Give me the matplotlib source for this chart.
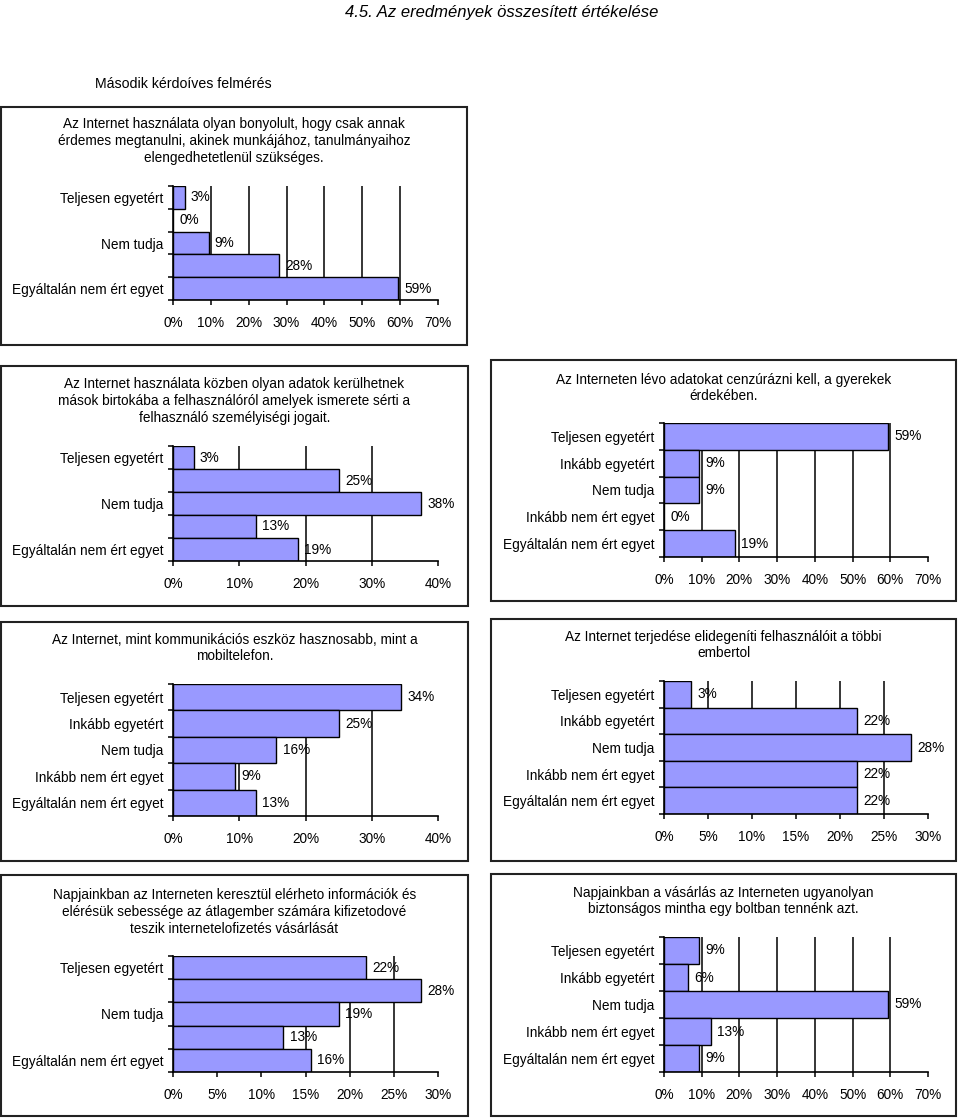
import numpy as np
import matplotlib
matplotlib.use('Agg')
import matplotlib.pyplot as plt
from matplotlib.patches import Rectangle

plt.rcParams['font.family'] = ['Liberation Sans', 'DejaVu Sans']

# --- dados ------------------------------------------------------------------
CATEGORIES = ['Teljesen egyetért', 'Inkább egyetért', 'Nem tudja',
              'Inkább nem ért egyet', 'Egyáltalán nem ért egyet']

TITLE_1 = ('Az Internet használata olyan bonyolult, hogy csak annak\n'
           'érdemes megtanulni, akinek munkájához, tanulmányaihoz\n'
           'elengedhetetlenül szükséges.')
TITLE_2 = ('Az Internet használata közben olyan adatok kerülhetnek\n'
           'mások birtokába a felhasználóról amelyek ismerete sérti a\n'
           'felhasználó személyiségi jogait.')
TITLE_3 = ('Az Interneten lévo adatokat cenzúrázni kell, a gyerekek\n'
           'érdekében.')
TITLE_4 = ('Az Internet, mint kommunikációs eszköz hasznosabb, mint a\n'
           'mobiltelefon.')
TITLE_5 = ('Az Internet terjedése elidegeníti felhasználóit a többi\n'
           'embertol')
TITLE_6 = ('Napjainkban az Interneten keresztül elérheto információk és\n'
           'elérésük sebessége az átlagember számára kifizetodové\n'
           'teszik internetelofizetés vásárlását')
TITLE_7 = ('Napjainkban a vásárlás az Interneten ugyanolyan\n'
           'biztonságos mintha egy boltban tennénk azt.')

VALUES_1 = [3.1, 0.0, 9.4, 28.1, 59.4]
VALUES_2 = [3.1, 25.0, 37.5, 12.5, 18.8]
VALUES_3 = [59.4, 9.4, 9.4, 0.0, 18.8]
VALUES_4 = [34.4, 25.0, 15.6, 9.4, 12.5]
VALUES_5 = [3.1, 21.9, 28.1, 21.9, 21.9]
VALUES_6 = [21.9, 28.1, 18.8, 12.5, 15.6]
VALUES_7 = [9.4, 6.3, 59.4, 12.5, 9.4]

# --- figura (coordenadas em pixels) -----------------------------------------
W, H = 960, 1118
FS = 9.8
BAR_COLOR = '#9999FF'

fig = plt.figure(figsize=(W / 100, H / 100), dpi=100)


def box(x0, x1, y0, y1):
    fig.add_artist(Rectangle((x0 / W, 1 - y1 / H), (x1 - x0) / W,
                             (y1 - y0) / H, transform=fig.transFigure,
                             fill=False, lw=1.5, ec='#222222'))


def panel(rect, values, xmax, step, title, title_y, frame, show_all=True):
    x0, x1, yt, yb = rect
    ax = fig.add_axes([x0 / W, 1 - yb / H, (x1 - x0) / W, (yb - yt) / H])
    y = np.arange(len(values))
    ax.barh(y, values, height=1.0, color=BAR_COLOR, edgecolor='black',
            lw=1.0, zorder=3)
    ticks = np.arange(0, xmax + step, step)
    ax.vlines(ticks[1:-1], -0.5, len(values) - 0.5, colors='black',
              lw=1.1, zorder=1)
    ax.set_xlim(0, xmax)
    ax.set_ylim(len(values) - 0.5, -0.5)
    ax.set_xticks(ticks)
    ax.set_xticklabels([f'{t}%' for t in ticks])
    ax.set_yticks(np.arange(-0.5, len(values), 1))
    ax.set_yticklabels([])
    ax.set_yticks(y, minor=True)
    labels = [c if (show_all or i % 2 == 0) else ''
              for i, c in enumerate(CATEGORIES)]
    ax.set_yticklabels(labels, minor=True)
    ax.tick_params(axis='y', which='major', direction='out', length=3.5,
                   width=1.1)
    ax.tick_params(axis='y', which='minor', length=0, pad=7, labelsize=FS)
    ax.tick_params(axis='x', direction='out', length=3.8, width=1.1,
                   pad=8, labelsize=FS)
    for s in ('top', 'right'):
        ax.spines[s].set_visible(False)
    for s in ('left', 'bottom'):
        ax.spines[s].set_linewidth(1.2)
        ax.spines[s].set_zorder(4)
    for i, v in enumerate(values):
        ax.annotate(f'{int(v + 0.5)}%', (v, i), xytext=(4.5, 0),
                    textcoords='offset points', ha='left', va='center',
                    fontsize=FS, zorder=5, annotation_clip=False)
    box(*frame)
    fig.text(((frame[0] + frame[1]) / 2) / W, 1 - title_y / H, title,
             ha='center', va='center', fontsize=FS, linespacing=1.25)
    return ax


fig.text(345 / W, 1 - 12 / H, '4.5. Az eredmények összesített értékelése',
         ha='left', va='center', fontsize=12, style='italic')
fig.text(95 / W, 1 - 84 / H, 'Második kérdoíves felmérés',
         ha='left', va='center', fontsize=10.2)

panel((173, 438, 186, 300), VALUES_1, 70, 10, TITLE_1, 141,
      (1, 467, 107, 345), show_all=False)
panel((173, 438, 446, 561), VALUES_2, 40, 10, TITLE_2, 401,
      (1, 468, 366, 606), show_all=False)
panel((664, 928, 423, 557), VALUES_3, 70, 10, TITLE_3, 388,
      (491, 956, 360, 601))
panel((173, 438, 684, 816), VALUES_4, 40, 10, TITLE_4, 648,
      (1, 468, 622, 861))
panel((664, 928, 681, 814), VALUES_5, 30, 5, TITLE_5, 645,
      (491, 956, 619, 861))
panel((173, 438, 956, 1072), VALUES_6, 30, 5, TITLE_6, 912,
      (1, 468, 875, 1116), show_all=False)
panel((664, 928, 937, 1072), VALUES_7, 70, 10, TITLE_7, 901,
      (491, 956, 874, 1116))

fig.savefig('out.png', dpi=100)
